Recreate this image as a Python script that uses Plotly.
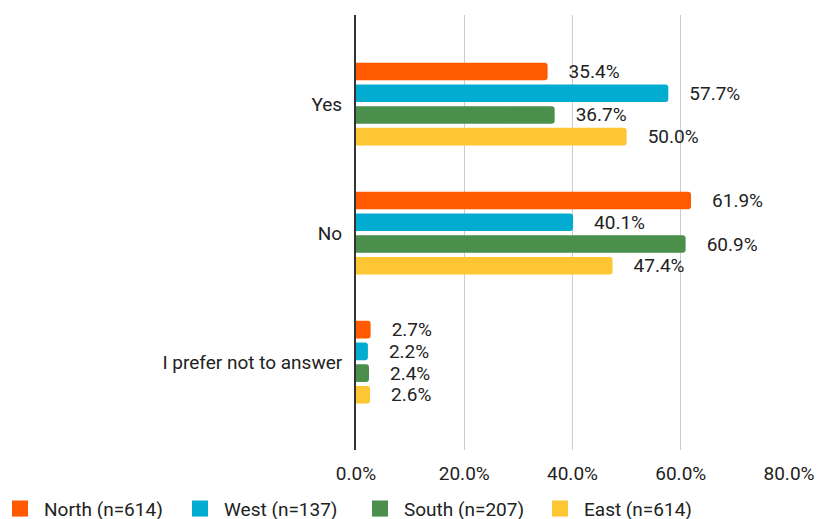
import plotly.graph_objects as go

categories = ["Yes", "No", "I prefer not to answer"]
series_names = ["North (n=614)", "West (n=137)", "South (n=207)", "East (n=614)"]
north = [0.354, 0.619, 0.027]
west = [0.577, 0.401, 0.022]
south = [0.367, 0.609, 0.024]
east = [0.500, 0.474, 0.026]
colors = ["#FF5A00", "#02ACD0", "#4A904C", "#FDC632"]
x_ticks = [0, 0.2, 0.4, 0.6, 0.8]
x_tick_labels = ["0.0%", "20.0%", "40.0%", "60.0%", "80.0%"]

FONT = "Roboto, Arial, sans-serif"
FS = 19
TXT = "#222222"
pad = "\u00a0" * 3 + "\u2009"

fig = go.Figure()
for name, vals, col in zip(series_names, [north, west, south, east], colors):
    fig.add_trace(go.Bar(
        y=categories, x=vals, name=name, orientation="h",
        marker=dict(color=col, line=dict(width=0)),
        text=[pad + f"{v*100:.1f}%" for v in vals],
        textposition="outside", cliponaxis=False, constraintext="none",
        textfont=dict(family=FONT, size=FS, color=TXT),
        hoverinfo="skip", showlegend=False,
    ))
# legend entries (square swatches)
for name, col in zip(series_names, colors):
    fig.add_trace(go.Scatter(
        x=[None], y=[None], mode="markers", name=name,
        marker=dict(symbol="square", size=16, color=col),
        showlegend=True, hoverinfo="skip",
    ))

fig.update_layout(
    width=819, height=519,
    margin=dict(l=356, r=30, t=15, b=69, autoexpand=False),
    paper_bgcolor="white", plot_bgcolor="white",
    barmode="group", bargap=0.327, bargroupgap=0.19,
    barcornerradius=3,
    font=dict(family=FONT, size=FS, color=TXT),
    xaxis=dict(range=[0, 0.8], tickvals=x_ticks, ticktext=x_tick_labels,
               showgrid=True, gridcolor="#CCCCCC", gridwidth=1,
               zeroline=False, showline=False, ticks="",
               ticklabelstandoff=10, automargin=False,
               tickfont=dict(family=FONT, size=FS, color=TXT)),
    yaxis=dict(categoryorder="array", categoryarray=categories,
               range=[2.68, -0.69], showgrid=False, zeroline=False,
               showline=True, linecolor="#333333", linewidth=2,
               ticks="", ticklabelstandoff=8, automargin=False,
               tickfont=dict(family=FONT, size=FS, color=TXT)),
    showlegend=True,
    legend=dict(orientation="h", xref="paper", yref="paper",
                x=-360 / 433, y=-0.135, xanchor="left", yanchor="middle",
                itemwidth=38, entrywidth=127, traceorder="normal",
                font=dict(family=FONT, size=FS, color=TXT)),
)

fig.write_html(
    "out.html",
    config={"displayModeBar": False},
    post_script="document.body.style.margin='0';document.body.style.padding='0';",
)
